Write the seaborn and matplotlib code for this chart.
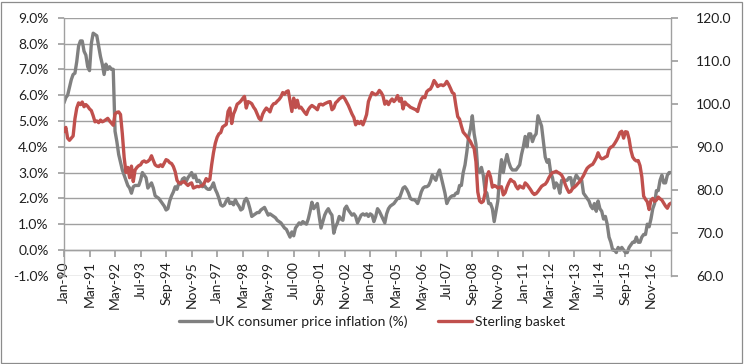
import numpy as np
import pandas as pd
import matplotlib
matplotlib.use("Agg")
import matplotlib.pyplot as plt
import seaborn as sns
from matplotlib.patches import Rectangle
from matplotlib.ticker import FuncFormatter

# UK CPI inflation, % (monthly, Jan-1990 .. Oct-2017), one row per year
cpi = [
    5.7, 5.9, 6.0, 6.3, 6.6, 6.8, 6.85, 7.3, 7.9, 8.1, 8.1, 7.7,
    7.55, 7.1, 6.95, 8.0, 8.4, 8.35, 8.3, 7.9, 7.5, 7.2, 6.8, 7.2,
    7.0, 7.1, 7.0, 7.0, 4.6, 4.2, 3.7, 3.4, 3.1, 2.9, 2.7, 2.5,
    2.4, 2.2, 2.45, 2.5, 2.5, 2.5, 2.7, 3.0, 2.9, 2.8, 2.4, 2.5,
    2.6, 2.4, 2.1, 2.05, 2.0, 1.9, 1.8, 1.7, 1.55, 1.6, 1.9, 2.1,
    2.25, 2.45, 2.35, 2.6, 2.55, 2.75, 2.8, 2.65, 2.8, 2.9, 3.0, 2.8,
    2.9, 2.65, 2.7, 2.6, 2.45, 2.5, 2.4, 2.35, 2.35, 2.45, 2.6, 2.35,
    2.2, 2.0, 1.75, 1.7, 1.75, 1.9, 2.0, 1.8, 1.85, 1.75, 1.95, 1.8,
    1.7, 1.55, 1.6, 1.9, 2.0, 1.85, 1.6, 1.3, 1.35, 1.4, 1.45, 1.45,
    1.55, 1.6, 1.65, 1.5, 1.35, 1.4, 1.35, 1.3, 1.25, 1.15, 1.1, 1.05,
    0.95, 0.85, 0.8, 0.65, 0.5, 0.7, 0.55, 0.85, 0.95, 1.05, 1.0, 1.1,
    1.05, 1.0, 1.2, 1.5, 1.85, 1.6, 1.7, 1.8, 1.3, 0.85, 1.1, 1.35,
    1.5, 1.6, 1.45, 1.35, 0.65, 0.9, 1.05, 1.3, 1.2, 1.15, 1.6, 1.7,
    1.55, 1.45, 1.35, 1.4, 1.3, 1.05, 1.2, 1.35, 1.4, 1.35, 1.4, 1.3,
    1.4, 1.35, 1.1, 1.3, 1.6, 1.5, 1.35, 1.2, 1.05, 1.4, 1.6, 1.7,
    1.75, 1.8, 1.9, 2.0, 2.0, 2.2, 2.4, 2.45, 2.35, 2.2, 2.0, 1.95,
    1.95, 1.9, 1.8, 2.0, 2.25, 2.4, 2.45, 2.45, 2.5, 2.65, 2.9, 2.8,
    2.7, 2.95, 3.1, 2.8, 2.5, 2.2, 1.8, 1.95, 2.05, 2.1, 2.1, 2.2,
    2.2, 2.5, 2.5, 3.0, 3.3, 3.8, 4.4, 4.7, 5.2, 4.5, 4.1, 3.1,
    3.0, 3.2, 2.9, 2.3, 2.2, 1.8, 1.8, 1.6, 1.1, 1.5, 1.9, 2.9,
    3.5, 3.0, 3.4, 3.7, 3.4, 3.2, 3.1, 3.1, 3.1, 3.2, 3.3, 3.7,
    4.0, 4.4, 4.0, 4.5, 4.5, 4.2, 4.4, 4.5, 5.2, 5.0, 4.8, 4.2,
    3.6, 3.4, 3.5, 3.0, 2.8, 2.4, 2.6, 2.5, 2.2, 2.7, 2.7, 2.7,
    2.7, 2.8, 2.8, 2.4, 2.7, 2.9, 2.8, 2.7, 2.7, 2.2, 2.1, 2.0,
    1.9, 1.7, 1.6, 1.8, 1.5, 1.9, 1.6, 1.5, 1.2, 1.3, 1.0, 0.5,
    0.3, 0.0, 0.0, -0.1, 0.1, 0.0, 0.1, 0.0, -0.1, -0.1, 0.1, 0.2,
    0.3, 0.3, 0.5, 0.3, 0.3, 0.5, 0.6, 0.6, 1.0, 0.9, 1.2, 1.6,
    1.8, 2.3, 2.3, 2.7, 2.9, 2.6, 2.6, 2.9, 3.0, 3.0,
]

# Sterling effective exchange rate index (right axis)
sterling = [
    93.5, 94.5, 92.0, 91.5, 92.0, 92.5, 96.5, 99.0, 100.2, 99.8, 100.4, 99.3,
    99.8, 99.4, 98.8, 98.4, 97.2, 95.8, 96.0, 95.6, 96.2, 95.8, 96.0, 96.3,
    96.6, 96.0, 95.5, 95.0, 97.6, 98.0, 98.1, 97.5, 93.0, 87.5, 84.0, 85.2,
    82.8, 85.5, 81.9, 84.6, 85.2, 85.6, 85.8, 86.5, 86.7, 86.4, 86.6, 87.0,
    87.9, 86.8, 85.8, 85.5, 85.4, 85.8, 85.4, 86.2, 87.0, 86.8, 86.3, 86.1,
    85.4, 84.2, 82.2, 81.6, 81.5, 81.8, 81.9, 81.4, 81.0, 81.4, 81.6, 80.4,
    80.6, 80.8, 80.7, 80.9, 81.0, 81.6, 82.6, 82.0, 82.4, 85.8, 88.6, 90.8,
    92.2, 93.0, 93.3, 94.6, 94.9, 95.2, 98.2, 99.0, 95.4, 97.6, 98.6, 99.9,
    100.2, 100.6, 101.2, 101.7, 99.0, 100.5, 100.3, 100.0, 99.2, 98.6, 97.6, 96.6,
    96.2, 97.6, 98.4, 99.0, 98.6, 98.1, 99.4, 100.0, 100.1, 100.6, 101.0, 101.6,
    102.6, 102.2, 102.8, 103.0, 100.6, 98.2, 101.3, 99.1, 100.8, 99.0, 99.2, 98.6,
    98.0, 97.5, 98.6, 99.2, 99.6, 99.3, 99.0, 98.6, 99.8, 99.9, 99.7, 100.0,
    100.2, 100.4, 100.5, 98.6, 99.0, 100.2, 100.6, 101.1, 101.4, 101.7, 101.2, 100.4,
    99.6, 98.6, 97.6, 96.8, 95.1, 95.9, 95.4, 95.9, 95.1, 96.2, 97.5, 100.5,
    101.6, 102.6, 102.3, 102.1, 102.4, 103.1, 102.6, 101.8, 99.9, 100.6, 99.8, 100.6,
    101.1, 100.5, 101.0, 101.9, 100.6, 101.3, 98.8, 100.4, 99.9, 99.6, 99.2, 99.0,
    98.8, 98.6, 98.2, 99.8, 101.0, 101.6, 101.4, 102.8, 103.2, 103.4, 104.2, 105.4,
    104.8, 104.0, 104.3, 104.4, 104.2, 104.5, 105.2, 104.5, 103.6, 102.6, 102.3, 99.5,
    97.0, 96.4, 94.8, 93.4, 92.9, 92.4, 91.8, 91.2, 90.3, 89.6, 86.5, 79.5,
    77.4, 77.0, 77.3, 79.2, 83.2, 84.2, 83.0, 80.6, 81.0, 80.8, 80.4, 80.6,
    80.7, 78.8, 79.3, 80.6, 81.6, 82.4, 82.0, 81.8, 80.8, 80.2, 80.9, 80.6,
    80.4, 81.6, 81.2, 80.6, 80.0, 79.3, 78.9, 79.1, 79.6, 80.2, 80.8, 81.1,
    81.3, 81.9, 82.8, 83.5, 84.0, 84.1, 84.3, 84.0, 83.8, 83.4, 82.6, 81.2,
    80.2, 79.4, 79.6, 80.3, 80.6, 81.0, 81.5, 81.9, 82.6, 83.3, 84.2, 85.0,
    85.4, 85.7, 85.9, 86.6, 87.4, 88.6, 87.6, 87.2, 87.3, 87.6, 87.8, 89.4,
    89.9, 90.1, 90.7, 91.4, 92.2, 93.3, 93.6, 92.0, 93.5, 93.4, 91.8, 89.2,
    87.6, 87.0, 86.7, 86.8, 85.6, 83.0, 78.5, 77.8, 77.2, 75.4, 77.6, 78.0,
    77.3, 77.6, 78.3, 77.9, 77.6, 76.9, 76.2, 75.7, 76.6, 76.9,
]

months = pd.date_range("1990-01-01", periods=len(cpi), freq="MS")
series_names = ["UK consumer price inflation (%)", "Sterling basket"]
label_step = 14

sns.set_theme(style="white")
plt.rcParams["font.family"] = ["Lato", "DejaVu Sans"]

grid_col = "#a0a0a0"
text_col = "#1f1f1f"

df = pd.DataFrame({"month": np.arange(len(cpi)), "cpi": cpi, "sterling": sterling})

fig = plt.figure(figsize=(7.44, 3.64), dpi=100)
ax = fig.add_axes([64 / 744, 1 - 275.8 / 364, (671 - 64) / 744, (275.8 - 17.7) / 364])
ax2 = ax.twinx()

sns.lineplot(data=df, x="month", y="cpi", ax=ax, color="#808080", lw=2.4, legend=False)
sns.lineplot(data=df, x="month", y="sterling", ax=ax2, color="#C0504D", lw=2.4, legend=False)

ax.set_xlim(0, len(cpi) - 1)
ax.set_ylim(-1, 9)
ax.set_yticks(range(-1, 10))
ax.yaxis.set_major_formatter(FuncFormatter(lambda v, _: f"{v:.1f}%"))
ax2.set_ylim(60, 120)
ax2.set_yticks(range(60, 121, 10))
ax2.yaxis.set_major_formatter(FuncFormatter(lambda v, _: f"{v:.1f}"))

ax.set_xticks(df["month"][::label_step])
ax.set_xticklabels(list(months[::label_step].strftime("%b-%y")))
ax.set_xlabel("")
ax.set_ylabel("")
ax2.set_ylabel("")

ax.grid(axis="y", color=grid_col, lw=1)
ax.grid(axis="x", visible=False)
ax.set_axisbelow(True)

# spines: x axis sits on the 0% line
ax.spines["bottom"].set_position(("data", 0))
for s in ["top", "right"]:
    ax.spines[s].set_visible(False)
for s in ["left", "bottom"]:
    ax.spines[s].set_color(grid_col)
    ax.spines[s].set_linewidth(1)
for s in ["left", "top", "bottom"]:
    ax2.spines[s].set_visible(False)
ax2.spines["right"].set_color(grid_col)
ax2.spines["right"].set_linewidth(1)

ax.tick_params(axis="y", left=True, direction="out", length=4, color=grid_col,
               labelsize=10, labelcolor=text_col, pad=7)
ax.tick_params(axis="x", bottom=True, direction="out", length=5, color=grid_col,
               labelsize=10, labelcolor=text_col, pad=3, labelrotation=90)
ax2.tick_params(axis="y", right=True, direction="out", length=5, color=grid_col,
                labelsize=10, labelcolor=text_col, pad=13)

fig.legend([ax.lines[0], ax2.lines[0]], series_names, loc="center",
           bbox_to_anchor=(0.5, 1 - 322 / 364), ncol=2, frameon=False,
           fontsize=10, handlelength=2.4, handletextpad=0.25, columnspacing=2.2,
           labelcolor=text_col)

# chart area border
fig.add_artist(Rectangle((0.7 / 744, 1.5 / 364), 741 / 744, 361 / 364,
                         transform=fig.transFigure, fill=False,
                         ec="#8c8c8c", lw=0.9))

fig.savefig("out.png", dpi=100)
